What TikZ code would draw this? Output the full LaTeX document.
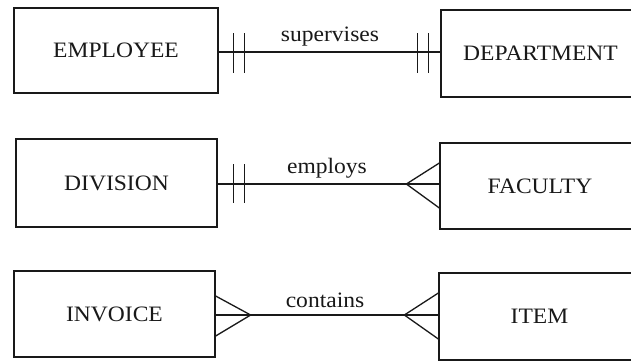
\documentclass[tikz,border=0pt]{standalone}
\usepackage{fontspec}
\setmainfont[FakeStretch=1.07]{Liberation Serif}
\begin{document}
\begin{tikzpicture}[x=1pt,y=-1pt,
  ink/.style={draw=black!90,line width=1.3pt},
  entity/.style={ink,rectangle,inner sep=0pt,font=\fontsize{22}{26}\selectfont,text=black!90},
  rel/.style={font=\fontsize{22}{26}\selectfont,text=black!90,inner sep=0pt}]
\useasboundingbox (0,0) rectangle (631,362);
\clip (0,0) rectangle (631,362);
\fill[white] (0,0) rectangle (631,362);
% entities
\node[entity,minimum width=204pt,minimum height=85pt] (emp) at (116,50.5) {EMPLOYEE};
\node[entity,minimum width=199pt,minimum height=87pt] (dep) at (540.5,53.5) {DEPARTMENT};
\node[entity,minimum width=201pt,minimum height=88pt] (div) at (116.5,183) {DIVISION};
\node[entity,minimum width=200pt,minimum height=86pt] (fac) at (540,186) {FACULTY};
\node[entity,minimum width=201pt,minimum height=86pt] (inv) at (114.5,314) {INVOICE};
\node[entity,minimum width=201pt,minimum height=87pt] (item) at (539.5,316.5) {ITEM};
% relationship labels
\node[rel] (l1) at (330,37) {supervises};
\node[rel] (l2) at (327,168) {employs};
\node[rel] (l3) at (325,300) {contains};
% row 1: one-and-only-one to one-and-only-one
\draw[ink] (emp.east |- 0,52) -- (dep.west |- 0,52);
\draw[ink] ([xshift=15pt]emp.east |- 0,33) -- ([xshift=15pt]emp.east |- 0,73);
\draw[ink] ([xshift=26pt]emp.east |- 0,33) -- ([xshift=26pt]emp.east |- 0,73);
\draw[ink] ([xshift=-23pt]dep.west |- 0,33) -- ([xshift=-23pt]dep.west |- 0,73);
\draw[ink] ([xshift=-12pt]dep.west |- 0,33) -- ([xshift=-12pt]dep.west |- 0,73);
% row 2: one to many
\draw[ink] (div.east |- 0,184) -- (fac.west |- 0,184);
\draw[ink] ([xshift=16pt]div.east |- 0,164) -- ([xshift=16pt]div.east |- 0,203);
\draw[ink] ([xshift=27pt]div.east |- 0,164) -- ([xshift=27pt]div.east |- 0,203);
\draw[ink] (fac.west |- 0,163) -- ([xshift=-33pt]fac.west |- 0,184) -- (fac.west |- 0,208);
% row 3: many to many
\draw[ink] (inv.east |- 0,315) -- (item.west |- 0,315);
\draw[ink] (inv.east |- 0,296) -- ([xshift=35pt]inv.east |- 0,315) -- (inv.east |- 0,336);
\draw[ink] (item.west |- 0,293) -- ([xshift=-34pt]item.west |- 0,315) -- (item.west |- 0,339);
\end{tikzpicture}
\end{document}
